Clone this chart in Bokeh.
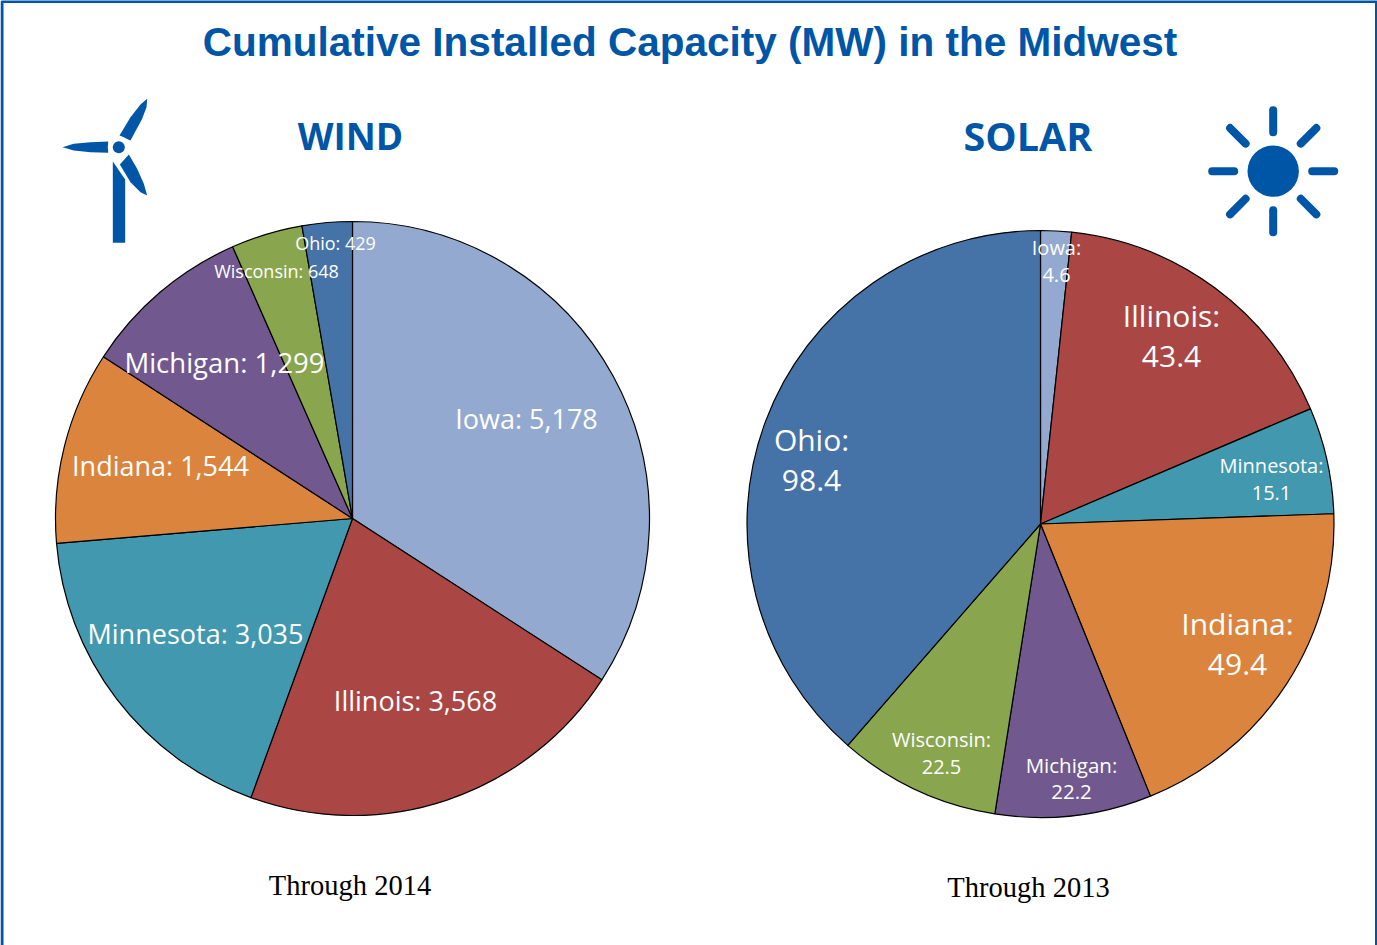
from math import radians, cos, sin
from bokeh.plotting import figure
from bokeh.models import ColumnDataSource, Range1d
from bokeh.core.properties import value
from bokeh.embed import file_html
from bokeh.resources import INLINE

states_wind = ["Iowa", "Illinois", "Minnesota", "Indiana", "Michigan", "Wisconsin", "Ohio"]
wind_mw = [5178, 3568, 3035, 1544, 1299, 648, 429]
# The reference's slices are not exactly proportional to its printed numbers:
# these are the slice sizes (degrees).
wind_slice_deg = [122.9, 77.1, 65.2, 37.8, 33.2, 14.0, 9.8]
wind_colors = ["#93A9CF", "#AA4643", "#4198AF", "#DB843D", "#71588F", "#89A54E", "#4572A7"]

states_solar = ["Iowa", "Illinois", "Minnesota", "Indiana", "Michigan", "Wisconsin", "Ohio"]
solar_mw = [4.6, 43.4, 15.1, 49.4, 22.2, 22.5, 98.4]
solar_slice_deg = [6.1, 60.8, 21.1, 70.0, 30.95, 32.1, 138.95]
solar_colors = ["#93A9CF", "#AA4643", "#4198AF", "#DB843D", "#71588F", "#89A54E", "#4572A7"]

title_text = "Cumulative Installed Capacity (MW) in the Midwest"
wind_head, solar_head = "WIND", "SOLAR"
wind_note, solar_note = "Through 2014", "Through 2013"

BLUE = "#0056A6"
W, H = 1377, 945
def Y(py):
    return H - py

p = figure(width=W, height=H, x_range=Range1d(0, W), y_range=Range1d(0, H),
           output_backend="svg", toolbar_location=None, min_border=0)
p.axis.visible = False
p.grid.visible = False
p.outline_line_color = None
p.background_fill_color = "white"
p.styles = {"position": "absolute", "left": "0px", "top": "0px"}

# frame (open at the bottom, as in the reference)
p.line([1.5, 1.5, 1376, 1376], [Y(945), Y(1), Y(1), Y(945)], line_color=BLUE, line_width=3)

def pie(cx, cy, r, sizes, colors):
    total = sum(sizes)
    start, starts, ends = 0.0, [], []
    for s in sizes:
        a = s / total * 360
        starts.append(radians(90 - start))
        ends.append(radians(90 - start - a))
        start += a
    src = ColumnDataSource(dict(x=[cx] * len(sizes), y=[Y(cy)] * len(sizes),
                                s=starts, e=ends, c=colors))
    p.wedge(x="x", y="y", radius=r, start_angle="s", end_angle="e", direction="clock",
            fill_color="c", line_color="black", line_width=1.2, source=src)

pie(352, 518, 297, wind_slice_deg, wind_colors)
pie(1040, 523.5, 293.5, solar_slice_deg, solar_colors)

LABEL_FONT = "Open Sans"
def label(xs, ys, texts, size, color="white", font=LABEL_FONT, style="normal"):
    src = ColumnDataSource(dict(x=xs, y=[Y(v) for v in ys], t=texts))
    p.text(x="x", y="y", text="t", source=src, text_color=color, text_font=value(font),
           text_font_size=size, text_align="center", text_baseline="middle", text_font_style=style)

def fmt(v):
    return f"{v:,}"

# wind labels: one line each
wx = [526, 415, 195, 160, 224, 276, 335]
wy = [418, 700, 633, 465, 362, 270, 242]
wsize = ["27px", "27px", "27px", "27px", "27.5px", "18px", "18px"]
for x, y, z, s, v in zip(wx, wy, wsize, states_wind, wind_mw):
    label([x], [y], [f"{s}: {fmt(v)}"], z)

# solar labels: two lines each
sx = [1056, 1171, 1271, 1237, 1071, 941, 811]
sy = [247, 315, 465, 623, 764, 739, 439]
sgap = [27, 41, 27, 41, 27, 27, 41]
ssize = ["20px", "30px", "20px", "30px", "20.5px", "20px", "30px"]
for x, y, g, z, s, v in zip(sx, sy, sgap, ssize, states_solar, solar_mw):
    label([x, x], [y, y + g], [f"{s}:", f"{v}"], z)

# headings
label([689.5], [41], [title_text], "40.5px", BLUE, "Liberation Sans", "bold")
label([350], [135], [wind_head], "37px", BLUE, "Open Sans", "bold")
label([1027.5], [135], [solar_head], "39.5px", BLUE, "Open Sans", "bold")
label([349.5, 1028], [885, 887], [wind_note, solar_note], "28.5px", "black", "Liberation Serif")

# wind turbine icon, outlines traced in the zoomed crop's coordinates
def tz(pts):
    return [40 + a / 3 for a, b in pts], [Y(80 + b / 3) for a, b in pts]
blades = [
    [(237,165),(270,110),(300,72),(320,55),(318,80),(305,115),(270,180)],
    [(66,200),(100,190),(150,185),(203,183),(203,217),(150,215),(100,210)],
    [(265,222),(290,265),(310,310),(320,345),(300,335),(270,305),(238,252)],
    [(217,243),(254,297),(254,487),(217,487)],
]
for b in blades:
    xs, ys = tz(b)
    p.patch(xs, ys, fill_color=BLUE, line_color=None)
p.circle([118.3], [Y(146.7)], radius=11, fill_color="white", line_color=None)
p.circle([118.3], [Y(146.7)], radius=6, fill_color=BLUE, line_color=None)

# sun icon
scx, scy = 1272.7, 170.7
p.circle([scx], [Y(scy)], radius=25.7, fill_color=BLUE, line_color=None)
x0, y0, x1, y1 = [], [], [], []
for deg in range(0, 360, 45):
    c, s = cos(radians(deg)), sin(radians(deg))
    x0.append(scx + 39 * c); y0.append(Y(scy) + 39 * s)
    x1.append(scx + 61 * c); y1.append(Y(scy) + 61 * s)
p.segment(x0, y0, x1, y1, line_color=BLUE, line_width=8, line_cap="round")

open("out.html", "w").write(file_html(p, INLINE))
